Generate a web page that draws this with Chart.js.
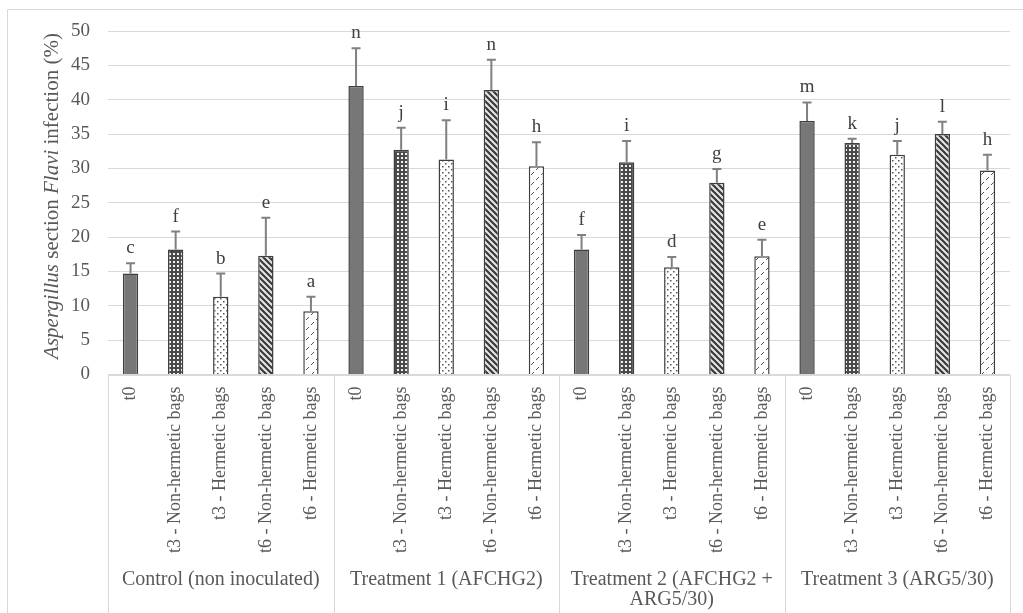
<!DOCTYPE html>
<html>
<head>
<meta charset="utf-8">
<script src="https://cdn.jsdelivr.net/npm/chart.js@4.4.0/dist/chart.umd.min.js"></script>
<style>
  html, body { margin: 0; padding: 0; background: #ffffff; }
  #wrap { width: 1023px; height: 613px; }
</style>
</head>
<body>
<div id="wrap"><canvas id="c" width="1023" height="613"></canvas></div>
<script>
// ---------------- DATA ----------------
const conditions = ['t0', 't3 - Non-hermetic bags', 't3 - Hermetic bags', 't6 - Non-hermetic bags', 't6 - Hermetic bags'];
const groups = [['Control (non inoculated)'], ['Treatment 1 (AFCHG2)'], ['Treatment 2 (AFCHG2 +', 'ARG5/30)'], ['Treatment 3 (ARG5/30)']];
const infection = [14.7, 18.2, 11.3, 17.3, 9.2,
                   42.0, 32.7, 31.3, 41.4, 30.3,
                   18.2, 30.9, 15.6, 27.9, 17.2,
                   36.9, 33.7, 32.0, 35.0, 29.7];
const errorPlus = [1.5, 2.6, 3.4, 5.5, 2.1,
                   5.5, 3.2, 5.7, 4.4, 3.5,
                   2.1, 3.1, 1.5, 2.0, 2.4,
                   2.7, 0.6, 2.0, 1.8, 2.3];
const letters = ['c', 'f', 'b', 'e', 'a',
                 'n', 'j', 'i', 'n', 'h',
                 'f', 'i', 'd', 'g', 'e',
                 'm', 'k', 'j', 'l', 'h'];
const yTicks = [0, 5, 10, 15, 20, 25, 30, 35, 40, 45, 50];

// ---------------- BUILD ----------------
const labels = [];
groups.forEach(() => conditions.forEach(c => labels.push(c)));

const canvas = document.getElementById('c');
const ctx = canvas.getContext('2d');

function makePattern(w, h, draw) {
  const c = document.createElement('canvas');
  c.width = w; c.height = h;
  const x = c.getContext('2d');
  draw(x, w, h);
  return ctx.createPattern(c, 'repeat');
}
const patSolid = '#777777';
const patGrid = makePattern(4, 4, (x, w, h) => {
  x.fillStyle = '#4a4a4a'; x.fillRect(0, 0, w, h);
  x.fillStyle = '#f2f2f2'; x.fillRect(1, 1, 2, 2);
});
const patDots = makePattern(6, 6, (x, w, h) => {
  x.fillStyle = '#ffffff'; x.fillRect(0, 0, w, h);
  x.fillStyle = '#555555';
  x.fillRect(1, 1, 1.5, 1.5);
  x.fillRect(4, 4, 1.5, 1.5);
});
const patDiag = makePattern(6, 6, (x, w, h) => {
  x.fillStyle = '#e6e6e6'; x.fillRect(0, 0, w, h);
  x.strokeStyle = '#3a3a3a'; x.lineWidth = 2.2;
  x.beginPath();
  for (let o = -6; o <= 6; o += 6) { x.moveTo(o - 1, -1); x.lineTo(o + 7, 7); }
  x.stroke();
});
const patDash = makePattern(10, 10, (x, w, h) => {
  x.fillStyle = '#ffffff'; x.fillRect(0, 0, w, h);
  x.strokeStyle = '#555555'; x.lineWidth = 1;
  x.beginPath();
  x.moveTo(1, 5); x.lineTo(4, 2);
  x.moveTo(6, 10); x.lineTo(9, 7);
  x.moveTo(6, 0); x.lineTo(9, -3);
  x.stroke();
});
const fills = [patSolid, patGrid, patDots, patDiag, patDash];
const borders = ['#3f3f3f', '#3f3f3f', '#3f3f3f', '#3f3f3f', '#3f3f3f'];

const SERIF = '"Liberation Serif", "Times New Roman", serif';
const GRID = '#d9d9d9';
const TEXT = '#595959';

const decorPlugin = {
  id: 'decor',
  beforeDraw(chart) {
    const c = chart.ctx;
    c.save();
    c.strokeStyle = GRID; c.lineWidth = 1;
    c.beginPath();
    c.moveTo(7.5, 613); c.lineTo(7.5, 9.5); c.lineTo(1023, 9.5);
    c.stroke();
    c.restore();
  },
  afterDraw(chart) {
    const c = chart.ctx;
    const xs = chart.scales.x, ys = chart.scales.y;
    const area = chart.chartArea;
    c.save();
    // category box
    c.strokeStyle = GRID; c.lineWidth = 1;
    const top = Math.round(area.bottom) + 0.5;
    c.beginPath();
    c.moveTo(Math.round(area.left) + 0.5, 613); c.lineTo(Math.round(area.left) + 0.5, top);
    c.lineTo(Math.round(area.right) + 0.5, top); c.lineTo(Math.round(area.right) + 0.5, 613);
    for (let g = 1; g < groups.length; g++) {
      const i = g * conditions.length;
      const xp = Math.round((xs.getPixelForValue(i - 1) + xs.getPixelForValue(i)) / 2) + 0.5;
      c.moveTo(xp, top); c.lineTo(xp, 613);
    }
    c.stroke();
    // group labels
    c.fillStyle = TEXT;
    c.font = '20px ' + SERIF;
    c.textAlign = 'center'; c.textBaseline = 'middle';
    groups.forEach((lines, g) => {
      const i0 = g * conditions.length, i1 = i0 + conditions.length - 1;
      const cx = (xs.getPixelForValue(i0) + xs.getPixelForValue(i1)) / 2;
      lines.forEach((t, k) => c.fillText(t, cx, 580 + k * 20));
    });
    // y axis title with italic parts
    const parts = [['Aspergillus', true], [' section ', false], ['Flavi', true], [' infection (%)', false]];
    const fs = 21;
    let total = 0;
    parts.forEach(p => { c.font = (p[1] ? 'italic ' : '') + fs + 'px ' + SERIF; total += c.measureText(p[0]).width; });
    c.translate(52, 196);
    c.rotate(-Math.PI / 2);
    c.textAlign = 'left'; c.textBaseline = 'middle';
    let px = -total / 2;
    parts.forEach(p => {
      c.font = (p[1] ? 'italic ' : '') + fs + 'px ' + SERIF;
      c.fillText(p[0], px, 0);
      px += c.measureText(p[0]).width;
    });
    c.restore();
  },
  afterDatasetsDraw(chart) {
    const c = chart.ctx;
    const xs = chart.scales.x, ys = chart.scales.y;
    c.save();
    infection.forEach((v, i) => {
      const x = xs.getPixelForValue(i);
      const y0 = ys.getPixelForValue(v);
      const y1 = ys.getPixelForValue(v + errorPlus[i]);
      c.strokeStyle = '#808080'; c.lineWidth = 2;
      c.beginPath();
      c.moveTo(x, y0); c.lineTo(x, y1);
      c.moveTo(x - 4.5, y1); c.lineTo(x + 4.5, y1);
      c.stroke();
      c.fillStyle = '#404040';
      c.font = '19px ' + SERIF;
      c.textAlign = 'center'; c.textBaseline = 'alphabetic';
      c.fillText(letters[i], x, y1 - 10);
    });
    c.restore();
  }
};

new Chart(canvas, {
  type: 'bar',
  data: {
    labels: labels,
    datasets: [{
      data: infection,
      backgroundColor: infection.map((_, i) => fills[i % 5]),
      borderColor: infection.map((_, i) => borders[i % 5]),
      borderWidth: 1.5,
      borderSkipped: 'bottom',
      categoryPercentage: 1,
      barPercentage: 0.34
    }]
  },
  options: {
    responsive: false,
    animation: false,
    devicePixelRatio: 1,
    layout: { padding: { top: 31, right: 13, left: 0, bottom: 0 } },
    plugins: { legend: { display: false }, tooltip: { enabled: false } },
    scales: {
      x: {
        grid: { display: false, drawTicks: false },
        border: { display: false },
        ticks: {
          autoSkip: false, minRotation: 90, maxRotation: 90, padding: 12,
          color: TEXT, font: { family: SERIF, size: 18 }
        },
        afterFit(s) { s.height = 238.5; }
      },
      y: {
        min: 0, max: 50,
        afterBuildTicks(s) { s.ticks = yTicks.map(v => ({ value: v })); },
        grid: { color: GRID, lineWidth: 1, drawTicks: false },
        border: { display: false },
        ticks: { padding: 18, color: TEXT, font: { family: SERIF, size: 19 } },
        afterFit(s) { s.width = 108; }
      }
    }
  },
  plugins: [decorPlugin]
});
</script>
</body>
</html>
